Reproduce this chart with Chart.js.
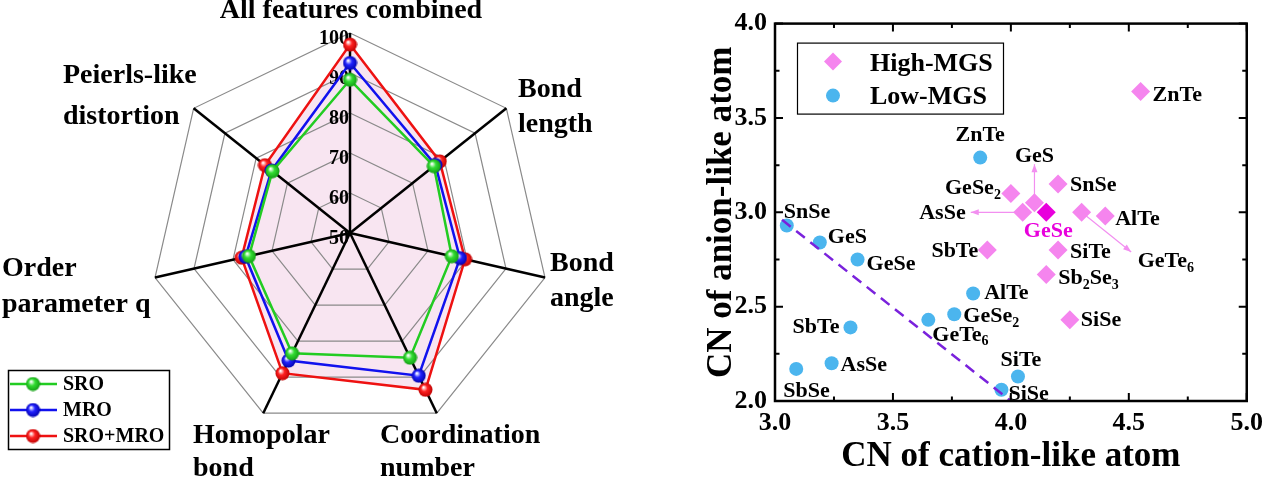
<!DOCTYPE html>
<html>
<head>
<meta charset="utf-8">
<script src="https://cdn.jsdelivr.net/npm/chart.js@4.4.1/dist/chart.umd.min.js"></script>
<style>
  body { margin: 0; background: #fff; }
  #wrap { position: relative; width: 1270px; height: 478px; overflow: hidden; }
  canvas { position: absolute; top: 0; }
  #radar { left: 0; }
  #scatter { left: 680px; }
</style>
</head>
<body>
<div id="wrap">
  <canvas id="radar" width="700" height="478"></canvas>
  <canvas id="scatter" width="590" height="478"></canvas>
</div>
<script>
const FONT = '"Liberation Serif", "Times New Roman", serif';

// ---- left panel: radar ----
const features = [
    ['All features combined'],
    ['Bond', 'length'],
    ['Bond', 'angle'],
    ['Coordination', 'number'],
    ['Homopolar', 'bond'],
    ['Order', 'parameter q'],
    ['Peierls-like', 'distortion']
];
const sroValues = [88.3, 76.8, 76.1, 84.6, 83.4, 75.9, 74.8];
const mroValues = [92.5, 77.3, 78.2, 89.6, 85.4, 76.8, 75.1];
const sroMroValues = [97.1, 78.7, 79.5, 93.5, 88.9, 77.8, 77.2];
const radarTicks = [50, 60, 70, 80, 90, 100];

// ---- right panel: scatter ----
const highNames = ['ZnTe', 'GeSe2', 'GeS', 'SnSe', 'AsSe', 'GeSe', 'GeTe6', 'AlTe', 'SbTe', 'SiTe', 'Sb2Se3', 'SiSe'];
const highX = [4.55, 4.00, 4.10, 4.20, 4.05, 4.15, 4.30, 4.40, 3.90, 4.20, 4.15, 4.25];
const highY = [3.64, 3.10, 3.05, 3.15, 3.00, 3.00, 3.00, 2.98, 2.80, 2.80, 2.67, 2.43];

const lowNames = ['SnSe', 'GeS', 'GeSe', 'SbTe', 'AsSe', 'SbSe', 'GeTe6', 'GeSe2', 'AlTe', 'ZnTe', 'SiTe', 'SiSe'];
const lowX = [3.05, 3.19, 3.35, 3.32, 3.24, 3.09, 3.65, 3.76, 3.84, 3.87, 4.03, 3.96];
const lowY = [2.93, 2.84, 2.75, 2.39, 2.20, 2.17, 2.43, 2.46, 2.57, 3.29, 2.13, 2.06];

const trendX = [3.03, 4.0];
const trendY = [2.96, 2.0];

// arrow end points for the crowded high-MGS labels
const arrowNames = ['GeS', 'AsSe', 'GeTe6'];
const arrowX = [4.10, 3.83, 4.51];
const arrowY = [3.255, 3.0, 2.79];

const xTickValues = [3.0, 3.5, 4.0, 4.5, 5.0];
const yTickValues = [2.0, 2.5, 3.0, 3.5, 4.0];

const PINK = '#f585ee';
const MAGENTA = '#e800dc';
const BLUE = '#4bb5ee';
const PURPLE = '#7a22dc';

function sphere(color, dark) {
    const c = document.createElement('canvas');
    c.width = 15; c.height = 15;
    const g = c.getContext('2d');
    const grad = g.createRadialGradient(5.5, 5, 0.5, 7.5, 7.5, 7.5);
    grad.addColorStop(0, '#ffffff');
    grad.addColorStop(0.4, color);
    grad.addColorStop(1, dark);
    g.fillStyle = grad;
    g.beginPath();
    g.arc(7.5, 7.5, 7, 0, Math.PI * 2);
    g.fill();
    return c;
}

const greenBall = sphere('#33dd33', '#119911');
const blueBall = sphere('#2222ff', '#0000aa');
const redBall = sphere('#ff2222', '#bb0000');

// offsets of the feature names from the radar centre (baseline of first line)
const featureLayout = [
    { dx: 1, dy: -215, align: 'center', gap: 0 },
    { dx: 168, dy: -136, align: 'left', gap: 35 },
    { dx: 200, dy: 38, align: 'left', gap: 35 },
    { dx: 30, dy: 210, align: 'left', gap: 33 },
    { dx: -157, dy: 210, align: 'left', gap: 33 },
    { dx: -348, dy: 43, align: 'left', gap: 36 },
    { dx: -287, dy: -150, align: 'left', gap: 41 }
];

const radarDecor = {
    id: 'radarDecor',
    beforeDatasetsDraw(chart) {
        const r = chart.scales.r;
        const ctx = chart.ctx;
        ctx.save();
        ctx.fillStyle = '#000';
        ctx.font = `bold 20px ${FONT}`;
        ctx.textAlign = 'right';
        ctx.textBaseline = 'alphabetic';
        radarTicks.forEach(v => {
            const d = r.getDistanceFromCenterForValue(v);
            ctx.fillText(String(v), r.xCenter - 1, r.yCenter - d + 11);
        });
        ctx.restore();
    },
    afterDraw(chart) {
        const r = chart.scales.r;
        const ctx = chart.ctx;
        ctx.save();
        ctx.fillStyle = '#000';
        ctx.font = `bold 28px ${FONT}`;
        ctx.textBaseline = 'alphabetic';
        features.forEach((lines, i) => {
            const L = featureLayout[i];
            ctx.textAlign = L.align;
            lines.forEach((t, k) => {
                ctx.fillText(t, r.xCenter + L.dx, r.yCenter + L.dy + k * L.gap);
            });
        });

        // legend box bottom-left
        ctx.lineWidth = 1.5;
        ctx.strokeStyle = '#000';
        ctx.strokeRect(8.5, 370.5, 161, 79);
        ctx.font = `bold 20px ${FONT}`;
        ctx.textAlign = 'left';
        ctx.textBaseline = 'middle';
        chart.data.datasets.forEach((ds, i) => {
            const y = 384 + i * 26;
            ctx.strokeStyle = ds.borderColor;
            ctx.lineWidth = 2.5;
            ctx.beginPath();
            ctx.moveTo(10, y);
            ctx.lineTo(57, y);
            ctx.stroke();
            ctx.drawImage(ds.pointStyle, 33 - 7.5, y - 7.5);
            ctx.fillStyle = '#000';
            ctx.fillText(ds.label, 63, y + 1);
        });
        ctx.restore();
    }
};

new Chart(document.getElementById('radar'), {
    type: 'radar',
    data: {
        labels: features,
        datasets: [
            { label: 'SRO', data: sroValues, borderColor: '#22cc22', borderWidth: 2.5, pointStyle: greenBall, fill: false },
            { label: 'MRO', data: mroValues, borderColor: '#1111ee', borderWidth: 2.5, pointStyle: blueBall, fill: false },
            { label: 'SRO+MRO', data: sroMroValues, borderColor: '#ee1111', borderWidth: 2.5, pointStyle: redBall,
              fill: true, backgroundColor: 'rgba(232,170,208,0.3)' }
        ]
    },
    options: {
        responsive: false,
        animation: false,
        layout: { padding: { top: 33, bottom: 45, left: 150, right: 150 } },
        plugins: {
            legend: { display: false },
            tooltip: { enabled: false },
            filler: { drawTime: 'beforeDraw' }
        },
        elements: { line: { tension: 0 } },
        scales: {
            r: {
                min: 50,
                max: 100,
                ticks: { display: false, stepSize: 10 },
                grid: { color: '#8a8a8a', lineWidth: 1.2 },
                angleLines: { color: '#000', lineWidth: 2.5 },
                pointLabels: { display: false }
            }
        }
    },
    plugins: [radarDecor]
});

// draws names like GeSe2 with the digits as subscripts
function drawChem(ctx, text, x, y, align) {
    const parts = text.match(/\d+|\D+/g);
    const big = `bold 22px ${FONT}`;
    const small = `bold 14px ${FONT}`;
    let total = 0;
    parts.forEach(p => {
        ctx.font = /\d/.test(p) ? small : big;
        total += ctx.measureText(p).width;
    });
    let cx = x;
    if (align === 'right') cx = x - total;
    if (align === 'center') cx = x - total / 2;
    ctx.textAlign = 'left';
    ctx.textBaseline = 'middle';
    parts.forEach(p => {
        const sub = /\d/.test(p);
        ctx.font = sub ? small : big;
        ctx.fillText(p, cx, sub ? y + 7 : y);
        cx += ctx.measureText(p).width;
    });
}

// label offsets in pixels from each marker
const highLabelPos = {
    ZnTe: [12, 4, 'left'], GeSe2: [-10, -5, 'right'], GeS: [0, -47, 'center'], SnSe: [12, 1, 'left'],
    AsSe: [-57, 1, 'right'], GeSe: [2, 19, 'center'], GeTe6: [56, 49, 'left'], AlTe: [10, 3, 'left'],
    SbTe: [-9, 1, 'right'], SiTe: [12, 2, 'left'], Sb2Se3: [12, 4, 'left'], SiSe: [11, 0, 'left']
};
const lowLabelPos = {
    SnSe: [-3, -13, 'left'], GeS: [8, -5, 'left'], GeSe: [9, 5, 'left'], SbTe: [-11, 0, 'right'],
    AsSe: [9, 2, 'left'], SbSe: [-13, 22, 'left'], GeTe6: [4, 15, 'left'], GeSe2: [9, 2, 'left'],
    AlTe: [11, 0, 'left'], ZnTe: [0, -22, 'center'], SiTe: [3, -16, 'center'], SiSe: [7, 5, 'left']
};

const scatterDecor = {
    id: 'scatterDecor',
    beforeDatasetsDraw(chart) {
        const ctx = chart.ctx;
        const xs = chart.scales.x, ys = chart.scales.y;
        ctx.save();
        ctx.strokeStyle = '#f28ff0';
        ctx.fillStyle = '#f28ff0';
        ctx.lineWidth = 1.2;
        arrowNames.forEach((n, i) => {
            const k = highNames.indexOf(n);
            const x0 = xs.getPixelForValue(highX[k]), y0 = ys.getPixelForValue(highY[k]);
            const x1 = xs.getPixelForValue(arrowX[i]), y1 = ys.getPixelForValue(arrowY[i]);
            ctx.beginPath();
            ctx.moveTo(x0, y0);
            ctx.lineTo(x1, y1);
            ctx.stroke();
            const a = Math.atan2(y1 - y0, x1 - x0);
            ctx.beginPath();
            ctx.moveTo(x1, y1);
            ctx.lineTo(x1 - 8 * Math.cos(a) + 3 * Math.sin(a), y1 - 8 * Math.sin(a) - 3 * Math.cos(a));
            ctx.lineTo(x1 - 8 * Math.cos(a) - 3 * Math.sin(a), y1 - 8 * Math.sin(a) + 3 * Math.cos(a));
            ctx.closePath();
            ctx.fill();
        });
        ctx.restore();
    },
    afterDraw(chart) {
        const ctx = chart.ctx;
        const ca = chart.chartArea;
        const xs = chart.scales.x, ys = chart.scales.y;
        ctx.save();

        // frame with inward ticks on all sides
        ctx.strokeStyle = '#000';
        ctx.lineWidth = 2.5;
        ctx.strokeRect(ca.left, ca.top, ca.right - ca.left, ca.bottom - ca.top);
        ctx.lineWidth = 2;
        ctx.beginPath();
        xTickValues.forEach((v, i) => {
            const px = xs.getPixelForValue(v);
            ctx.moveTo(px, ca.bottom); ctx.lineTo(px, ca.bottom - 8);
            ctx.moveTo(px, ca.top); ctx.lineTo(px, ca.top + 8);
            if (i < xTickValues.length - 1) {
                const pm = xs.getPixelForValue((v + xTickValues[i + 1]) / 2);
                ctx.moveTo(pm, ca.bottom); ctx.lineTo(pm, ca.bottom - 4.5);
                ctx.moveTo(pm, ca.top); ctx.lineTo(pm, ca.top + 4.5);
            }
        });
        yTickValues.forEach((v, i) => {
            const py = ys.getPixelForValue(v);
            ctx.moveTo(ca.left, py); ctx.lineTo(ca.left + 8, py);
            ctx.moveTo(ca.right, py); ctx.lineTo(ca.right - 8, py);
            if (i < yTickValues.length - 1) {
                const pm = ys.getPixelForValue((v + yTickValues[i + 1]) / 2);
                ctx.moveTo(ca.left, pm); ctx.lineTo(ca.left + 4.5, pm);
                ctx.moveTo(ca.right, pm); ctx.lineTo(ca.right - 4.5, pm);
            }
        });
        ctx.stroke();

        // point labels
        ctx.fillStyle = '#000';
        highNames.forEach((n, i) => {
            const p = highLabelPos[n];
            ctx.fillStyle = n === 'GeSe' ? MAGENTA : '#000';
            drawChem(ctx, n, xs.getPixelForValue(highX[i]) + p[0], ys.getPixelForValue(highY[i]) + p[1], p[2]);
        });
        ctx.fillStyle = '#000';
        lowNames.forEach((n, i) => {
            const p = lowLabelPos[n];
            drawChem(ctx, n, xs.getPixelForValue(lowX[i]) + p[0], ys.getPixelForValue(lowY[i]) + p[1], p[2]);
        });

        // legend box
        const lx = ca.left + 22, ly = ca.top + 19;
        ctx.lineWidth = 1.2;
        ctx.strokeStyle = '#000';
        ctx.strokeRect(lx + 0.5, ly + 0.5, 206, 71);
        ctx.fillStyle = PINK;
        ctx.beginPath();
        ctx.moveTo(lx + 36, ly + 10);
        ctx.lineTo(lx + 45, ly + 19);
        ctx.lineTo(lx + 36, ly + 28);
        ctx.lineTo(lx + 27, ly + 19);
        ctx.closePath();
        ctx.fill();
        ctx.fillStyle = BLUE;
        ctx.beginPath();
        ctx.arc(lx + 36, ly + 53, 7, 0, Math.PI * 2);
        ctx.fill();
        ctx.fillStyle = '#000';
        ctx.font = `bold 26px ${FONT}`;
        ctx.textAlign = 'left';
        ctx.textBaseline = 'alphabetic';
        ctx.fillText('High-MGS', lx + 73, ly + 28);
        ctx.fillText('Low-MGS', lx + 73, ly + 61);
        ctx.restore();
    }
};

const tickFont = { family: FONT, size: 26, weight: 'bold' };
const titleFont = { family: FONT, size: 35, weight: 'bold' };

new Chart(document.getElementById('scatter'), {
    type: 'scatter',
    data: {
        datasets: [
            {
                label: 'High-MGS',
                data: highX.map((x, i) => ({ x: x, y: highY[i] })),
                pointStyle: 'rectRot',
                pointRadius: 9.5,
                pointBorderWidth: 0,
                pointBackgroundColor: highNames.map(n => n === 'GeSe' ? MAGENTA : PINK),
                order: 1
            },
            {
                label: 'Low-MGS',
                data: lowX.map((x, i) => ({ x: x, y: lowY[i] })),
                pointStyle: 'circle',
                pointRadius: 7,
                pointBorderWidth: 0,
                pointBackgroundColor: BLUE,
                order: 1
            },
            {
                label: 'trend',
                data: trendX.map((x, i) => ({ x: x, y: trendY[i] })),
                showLine: true,
                pointRadius: 0,
                borderColor: PURPLE,
                borderWidth: 2.5,
                borderDash: [11, 7],
                fill: false,
                order: 0
            }
        ]
    },
    options: {
        responsive: false,
        animation: false,
        layout: { padding: { left: 0, right: 18, top: 17, bottom: 0 } },
        plugins: { legend: { display: false }, tooltip: { enabled: false } },
        scales: {
            x: {
                type: 'linear',
                min: 3,
                max: 5,
                afterFit: s => { s.height = 77; },
                afterBuildTicks: s => { s.ticks = xTickValues.map(v => ({ value: v })); },
                grid: { display: false, drawTicks: false },
                border: { display: false },
                ticks: { padding: 7, color: '#000', font: tickFont, maxRotation: 0, autoSkip: false,
                         callback: v => v.toFixed(1) },
                title: { display: true, text: 'CN of cation-like atom', color: '#000', font: titleFont,
                         padding: { top: 0, bottom: 0 } }
            },
            y: {
                type: 'linear',
                min: 2,
                max: 4,
                afterFit: s => { s.width = 95; },
                afterBuildTicks: s => { s.ticks = yTickValues.map(v => ({ value: v })); },
                grid: { display: false, drawTicks: false },
                border: { display: false },
                ticks: { padding: 8, color: '#000', font: tickFont, autoSkip: false,
                         callback: v => v.toFixed(1) },
                title: { display: true, text: 'CN of anion-like atom', color: '#000', font: titleFont,
                         padding: { top: 21, bottom: 0 } }
            }
        }
    },
    plugins: [scatterDecor]
});
</script>
</body>
</html>
